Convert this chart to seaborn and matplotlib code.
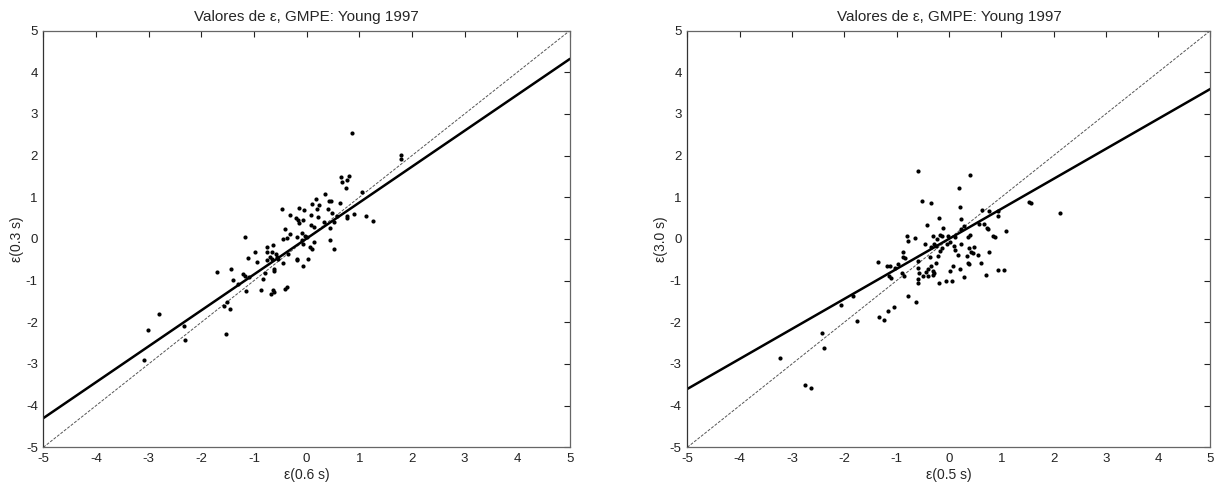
import numpy as np
import pandas as pd
import matplotlib
matplotlib.use("Agg")
import matplotlib.pyplot as plt
import seaborn as sns

# ---- data ----
left_x = [0.87, 1.80, 1.80, 0.65, 0.80, 0.76, 0.68, 0.74, 1.05, 0.34, 0.18, 0.42, 0.46, 0.10,
          0.23, 0.63, 0.20, -0.15, -0.05, -0.47, 0.40, 0.49, 0.57, 0.89, 0.76, 0.76, 1.12, 1.26,
          -0.32, 0.09, 0.22, -0.20, -0.17, -0.06, -0.15, 0.32, 0.51, 0.44, 0.09, 0.13, -0.42,
          -0.09, -0.03, -0.32, -0.38, -0.44, -0.19, 0.00, -0.09, 0.13, -0.06, 0.06, 0.11, 0.44,
          0.51, -1.18, -0.75, -0.64, -0.76, -0.66, -0.58, -0.70, -0.57, -0.98, -1.12, -0.95,
          -0.76, -0.66, -0.54, -0.44, -0.36, -0.19, -0.18, 0.03, -0.06, -0.62, -0.62, -0.79,
          -0.82, -1.44, -1.70, -1.20, -1.18, -1.09, -1.39, -1.30, -1.15, -0.87, -0.68, -0.63,
          -0.62, -0.41, -0.38, -1.57, -1.52, -1.45, -1.53, -2.32, -2.31, -2.81, -3.09, -3.02]
left_y = [2.55, 2.01, 1.91, 1.49, 1.51, 1.41, 1.36, 1.23, 1.13, 1.07, 0.95, 0.92, 0.92, 0.83,
          0.81, 0.86, 0.71, 0.73, 0.69, 0.71, 0.71, 0.63, 0.55, 0.59, 0.55, 0.49, 0.55, 0.43,
          0.57, 0.57, 0.53, 0.49, 0.45, 0.45, 0.37, 0.41, 0.41, 0.25, 0.33, 0.28, 0.23,
          0.15, 0.07, 0.12, 0.03, 0.01, 0.04, 0.05, -0.03, -0.07, -0.11, -0.19, -0.23, -0.03,
          -0.23, 0.05, -0.19, -0.15, -0.31, -0.31, -0.35, -0.43, -0.43, -0.31, -0.45, -0.55,
          -0.51, -0.47, -0.47, -0.57, -0.36, -0.47, -0.51, -0.49, -0.65, -0.71, -0.77, -0.81,
          -0.95, -0.71, -0.79, -0.83, -0.89, -0.91, -0.99, -1.07, -1.25, -1.23, -1.33, -1.23,
          -1.27, -1.19, -1.15, -1.61, -1.51, -1.69, -2.29, -2.09, -2.43, -1.79, -2.90, -2.18]

right_x = [-0.59, 0.41, 0.20, -0.52, -0.35, 0.22, -0.18, -0.42, -0.11, 0.24, 0.64, 0.76, 0.93,
           0.93, 1.54, 1.56, 0.29, 0.24, 0.57, 0.67, 0.72, 0.75, 1.10, 0.85, 0.88, 0.40, 0.37,
           -0.81, -0.78, -0.65, -0.31, -0.22, -0.17, -0.14, -0.01, 0.11, -0.46, -0.35, -0.29,
           -0.24, -0.17, -0.14, -0.04, 0.03, 0.10, 0.11, 0.18, 0.24, 0.34, 0.39, 0.43, 0.48,
           0.46, 0.55, 0.62, 0.77, 0.37, 0.39, 0.08, 0.02, 0.21, 0.29, -0.06, 0.05, -0.19,
           0.71, 0.93, 1.06, -1.36, -1.19, -1.13, -1.03, -0.97, -0.87, -0.83, -0.87, -1.14,
           -1.11, -0.90, -0.86, -0.60, -0.59, -0.57, -0.59, -0.59, -0.50, -0.43, -0.39, -0.35,
           -0.31, -0.31, -0.29, -0.39, -0.25, -0.20, -0.36, -0.79, -0.62, -1.04, -1.16, -1.25,
           -1.34, -1.75, -1.84, -2.06, -2.43, -2.38, -3.22, -2.75, -2.64, 2.12]
right_y = [1.62, 1.54, 1.22, 0.92, 0.86, 0.77, 0.51, 0.34, 0.26, 0.48, 0.70, 0.66, 0.66,
           0.54, 0.88, 0.86, 0.32, 0.24, 0.36, 0.36, 0.26, 0.24, 0.18, 0.08, 0.04, 0.10, 0.04,
           0.08, -0.06, 0.03, 0.08, 0.00, 0.10, 0.08, 0.08, 0.04, -0.12, -0.20, -0.12,
           -0.16, -0.28, -0.22, -0.12, -0.08, -0.18, -0.26, -0.38, -0.12, -0.40, -0.22, -0.32,
           -0.20, -0.34, -0.38, -0.58, -0.32, -0.58, -0.60, -0.66, -0.78, -0.72, -0.92, -1.00,
           -1.00, -1.06, -0.86, -0.75, -0.75, -0.56, -0.64, -0.64, -0.70, -0.60, -0.44, -0.46,
           -0.32, -0.90, -0.94, -0.82, -0.90, -0.54, -0.70, -0.82, -0.96, -1.06, -0.88, -0.80,
           -0.72, -0.64, -0.76, -0.86, -0.82, -0.88, -0.58, -0.40, -0.44, -1.38, -1.52, -1.64,
           -1.72, -1.94, -1.88, -1.98, -1.36, -1.58, -2.26, -2.61, -2.86, -3.50, -3.58, 0.62]

fit_slope = [0.862, 0.72]
fit_intercept = [0.01, 0.0]

titles = ["Valores de ε, GMPE: Young 1997", "Valores de ε, GMPE: Young 1997"]
xlabels = ["ε(0.6 s)", "ε(0.5 s)"]
ylabels = ["ε(0.3 s)", "ε(3.0 s)"]
ticks = [-5, -4, -3, -2, -1, 0, 1, 2, 3, 4, 5]

# ---- plotting ----
sns.set_style("white")
plt.rcParams["font.family"] = ["Liberation Sans", "DejaVu Sans"]
plt.rcParams["axes.unicode_minus"] = False

fig = plt.figure(figsize=(12.21, 4.86), dpi=100)
ax_pos = [[0.0355, 0.0796, 0.4313, 0.8576], [0.5629, 0.0796, 0.4285, 0.8576]]
datasets = [(left_x, left_y), (right_x, right_y)]

for i in range(2):
    ax = fig.add_axes(ax_pos[i])
    xs, ys = datasets[i]
    df = pd.DataFrame({"x": xs, "y": ys})
    # 1:1 reference line
    ax.plot([-5, 5], [-5, 5], linestyle=(0, (3, 1.5)), color="#555555", linewidth=0.7, zorder=1)
    # fitted line
    lx = np.array([-5.0, 5.0])
    ax.plot(lx, fit_slope[i] * lx + fit_intercept[i], color="black", linewidth=1.8, zorder=2)
    sns.scatterplot(data=df, x="x", y="y", ax=ax, color="black", s=9, linewidth=0, zorder=3)
    ax.set_xlim(-5, 5)
    ax.set_ylim(-5, 5)
    ax.set_xticks(ticks)
    ax.set_yticks(ticks)
    ax.tick_params(direction="in", top=True, right=True, length=4, width=0.8,
                   labelsize=9.5, colors="#222222", pad=4)
    for name, sp in ax.spines.items():
        sp.set_color("#333333" if name == "left" else "#666666")
        sp.set_linewidth(0.9)
        sp.set_visible(True)
    ax.set_title(titles[i], fontsize=11, pad=7)
    ax.set_xlabel(xlabels[i], fontsize=10, labelpad=2)
    ax.set_ylabel(ylabels[i], fontsize=10, labelpad=1)

fig.savefig("out.png", dpi=100)
